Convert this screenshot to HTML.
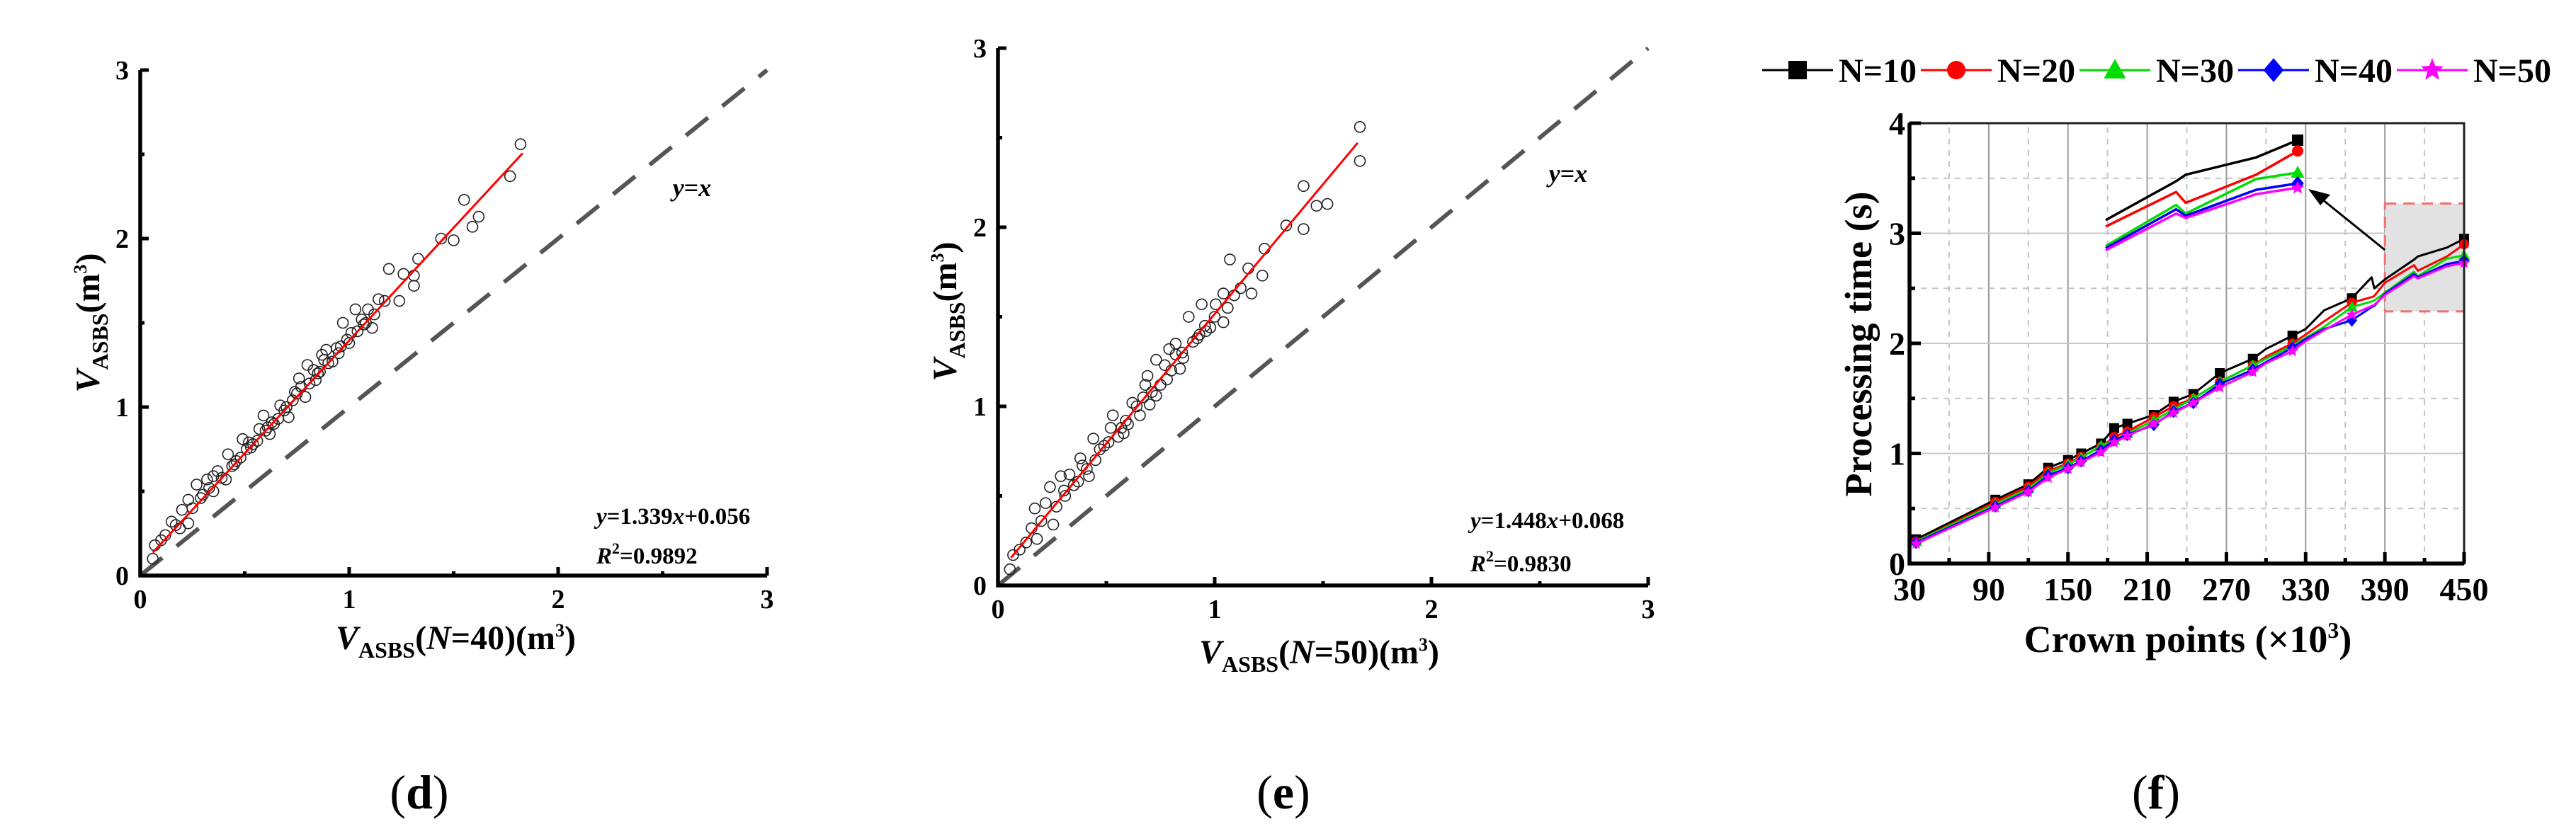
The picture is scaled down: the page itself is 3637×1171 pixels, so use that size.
<!DOCTYPE html>
<html><head><meta charset="utf-8"><style>
html,body{margin:0;padding:0;background:#fff;}
svg{display:block;font-family:"Liberation Serif",serif;}
</style></head><body>
<svg id="fig" width="3637" height="1171" viewBox="0 0 3637 1171" xmlns="http://www.w3.org/2000/svg">
<rect width="3637" height="1171" fill="#fff"/>
<g id="pd"></g>
<g id="pe"></g>
<g id="pf"></g>
</svg>
<script>
// ---------- Panel d data ----------
const dX = [0.06,0.07,0.10,0.15,0.19,0.23,0.23,0.27,0.29,0.32,0.35,0.37,0.41,0.42,0.46,0.49,0.51,0.54,0.59,0.62,0.64,0.67,0.71,0.74,0.76,0.79,0.80,0.84,0.87,0.89,0.92,0.94,0.97,1.00,1.03,1.06,1.09,1.11,1.14,1.19,1.24,1.26,1.31,1.33,1.44,1.50,1.55,1.59,1.62,1.77,1.82,0.57,0.69,0.83,0.88,1.01,1.17,1.31,0.20,0.35,0.44,
  0.12,0.17,0.25,0.30,0.33,0.39,0.45,0.48,0.53,0.56,0.60,0.63,0.66,0.70,0.73,0.77,0.81,0.85,0.90,0.95,0.99,1.04,1.08,1.12,0.52,0.61,0.75,0.86,0.96,1.07];
const dY = [0.10,0.18,0.21,0.32,0.28,0.31,0.45,0.54,0.46,0.57,0.50,0.62,0.57,0.72,0.68,0.81,0.75,0.78,0.95,0.84,0.90,1.01,0.94,1.09,1.17,1.06,1.25,1.16,1.31,1.34,1.27,1.35,1.50,1.38,1.58,1.52,1.58,1.47,1.64,1.82,1.63,1.79,1.72,1.88,2.00,1.99,2.23,2.07,2.13,2.37,2.56,0.87,0.98,1.22,1.28,1.44,1.63,1.78,0.39,0.59,0.65,
  0.24,0.30,0.40,0.48,0.52,0.58,0.66,0.70,0.76,0.80,0.86,0.91,0.93,1.00,1.04,1.12,1.14,1.20,1.26,1.32,1.40,1.45,1.50,1.55,0.79,0.88,1.08,1.21,1.36,1.49];
const dFit = [1.339, 0.056];
const dFitRange = [0.06, 1.83];
// ---------- Panel e data ----------
const eX = [0.055,0.07,0.155,0.18,0.22,0.24,0.255,0.305,0.33,0.37,0.38,0.42,0.44,0.47,0.53,0.555,0.59,0.62,0.655,0.68,0.69,0.73,0.73,0.78,0.79,0.82,0.855,0.88,0.92,0.94,0.98,1.005,1.04,1.04,1.07,1.155,1.17,1.22,1.23,1.33,1.41,1.41,1.47,1.52,1.67,1.67,0.52,0.64,0.77,0.82,0.955,1.09,0.17,0.29,0.39,
  0.10,0.13,0.20,0.27,0.31,0.35,0.41,0.45,0.49,0.51,0.57,0.60,0.67,0.71,0.75,0.80,0.85,0.90,0.96,1.00,1.06,1.12,0.58,0.70,0.84,0.93];
const eY = [0.09,0.17,0.32,0.26,0.46,0.55,0.34,0.53,0.62,0.58,0.71,0.61,0.82,0.76,0.95,0.83,0.92,1.02,0.95,1.12,1.17,1.06,1.26,1.15,1.32,1.35,1.27,1.50,1.38,1.57,1.44,1.57,1.47,1.63,1.82,1.77,1.63,1.73,1.88,2.01,1.99,2.23,2.12,2.13,2.37,2.56,0.88,1.00,1.23,1.29,1.45,1.62,0.43,0.61,0.67,
  0.20,0.24,0.36,0.44,0.50,0.56,0.65,0.70,0.78,0.80,0.88,0.90,1.05,1.08,1.12,1.20,1.30,1.36,1.42,1.50,1.55,1.66,0.85,1.01,1.21,1.40];
const eFit = [1.448, 0.068];
const eFitRange = [0.06, 1.66];
const scatterTicks = [0,1,2,3];
// ---------- Panel f data ----------
const fX = [35,95,120,135,150,160,175,185,195,215,230,245,265,290,300,320,330,344,365,380,382,390,412,415,437,450];
const fN10 = [0.22,0.58,0.72,0.87,0.94,1.00,1.09,1.23,1.27,1.35,1.47,1.54,1.73,1.86,1.95,2.07,2.13,2.30,2.41,2.60,2.50,2.58,2.76,2.79,2.87,2.95];
const fN20 = [0.20,0.56,0.70,0.84,0.91,0.97,1.06,1.15,1.20,1.33,1.43,1.50,1.65,1.80,1.88,2.00,2.08,2.20,2.37,2.42,2.43,2.55,2.71,2.66,2.79,2.90];
const fN30 = [0.20,0.54,0.68,0.82,0.90,0.96,1.07,1.12,1.18,1.30,1.40,1.50,1.65,1.80,1.86,1.98,2.05,2.15,2.33,2.38,2.39,2.46,2.65,2.61,2.77,2.80];
const fN40 = [0.19,0.52,0.66,0.80,0.87,0.93,1.03,1.12,1.17,1.26,1.38,1.46,1.63,1.76,1.83,1.96,2.04,2.13,2.21,2.33,2.34,2.45,2.63,2.60,2.72,2.75];
const fN50 = [0.18,0.51,0.65,0.78,0.86,0.92,1.01,1.10,1.16,1.27,1.37,1.46,1.60,1.74,1.82,1.93,2.02,2.12,2.26,2.34,2.35,2.44,2.61,2.59,2.70,2.73];
const fMarkerX = [35,95,120,135,150,160,175,185,195,215,230,245,265,290,320,365,450];
const fSeriesNames = ["N=10","N=20","N=30","N=40","N=50"];
const fXTicks = [30,90,150,210,270,330,390,450];
const fYTicks = [0,1,2,3,4];
const fZoomX = [390,450];
const fZoomY = [2.29,3.27];

const NS = "http://www.w3.org/2000/svg";
function mk(tag, attrs, parent){
  const e = document.createElementNS(NS, tag);
  for (const k in attrs) e.setAttribute(k, attrs[k]);
  parent.appendChild(e);
  return e;
}

function scatterPanel(g, o){
  const sx = v => o.x0 + v*o.ux;
  const sy = v => o.y0 - v*o.uy;
  const ref = mk('line',{x1:sx(0),y1:sy(0),x2:sx(3),y2:sy(3),stroke:'#555','stroke-width':6,'stroke-dasharray':'40,26'},g);
  
  
  for (let i=0;i<o.xs.length;i++){
    const c = mk('circle',{cx:sx(o.xs[i]),cy:sy(o.ys[i]),r:7.5,fill:'none',stroke:'#222','stroke-width':1.6},g);
    
    
  }
  const fl = mk('line',{x1:sx(o.fr[0]),y1:sy(o.fit[0]*o.fr[0]+o.fit[1]),x2:sx(o.fr[1]),y2:sy(o.fit[0]*o.fr[1]+o.fit[1]),stroke:'#f00','stroke-width':3},g);
  
  
  const ax = mk('path',{d:`M${sx(0)},${sy(3)} L${sx(0)},${sy(0)} L${sx(3)},${sy(0)}`,fill:'none',stroke:'#000','stroke-width':5.5},g);
  
  
  for (let v=0; v<=3.001; v+=0.5){
    const major = Math.abs(v-Math.round(v))<1e-6;
    const len = major?12:6;
    const t1 = mk('line',{x1:sx(v),y1:sy(0),x2:sx(v),y2:sy(0)-len,stroke:'#000','stroke-width':5},g);
    
    
    const t2 = mk('line',{x1:sx(0),y1:sy(v),x2:sx(0)+len,y2:sy(v),stroke:'#000','stroke-width':5},g);
    
    
  }
  scatterTicks.forEach(v=>{
    const a = mk('text',{x:sx(v),y:sy(0)+46,'font-size':38,'font-weight':'bold','text-anchor':'middle'},g);
    a.textContent = v;
    
    
    const b = mk('text',{x:sx(0)-16,y:sy(v)+13,'font-size':38,'font-weight':'bold','text-anchor':'end'},g);
    b.textContent = v;
    
    
  });
}

function addText(g, html, attrs, name){
  const t = mk('text', attrs, g);
  t.innerHTML = html;
  
  
  return t;
}

// Panel d
const pd = document.getElementById('pd');
scatterPanel(pd,{x0:198,y0:813,ux:295,uy:238,xs:dX,ys:dY,fit:dFit,fr:dFitRange});
addText(pd,'<tspan font-style="italic">V</tspan><tspan font-size="32" dy="12">ASBS</tspan><tspan dy="-12">(</tspan><tspan font-style="italic">N</tspan>=40)(m<tspan font-size="26" dy="-18">3</tspan><tspan dy="18">)</tspan>',{x:474,y:917,'font-size':48,'font-weight':'bold'},'x-axis-title');
addText(pd,'<tspan font-style="italic">V</tspan><tspan font-size="32" dy="12">ASBS</tspan><tspan dy="-12">(m</tspan><tspan font-size="26" dy="-18">3</tspan><tspan dy="18">)</tspan>',{x:0,y:0,'font-size':48,'font-weight':'bold','text-anchor':'middle',transform:'translate(140,456) rotate(-90)'},'y-axis-title');
addText(pd,'<tspan font-style="italic">y</tspan>=<tspan font-style="italic">x</tspan>',{x:977,y:277,'font-size':36,'font-weight':'bold','text-anchor':'middle'},'identity-label');
addText(pd,'<tspan font-style="italic">y</tspan>=1.339<tspan font-style="italic">x</tspan>+0.056',{x:842,y:740,'font-size':33,'font-weight':'bold'},'fit-equation');
addText(pd,'<tspan font-style="italic">R</tspan><tspan font-size="22" dy="-14">2</tspan><tspan dy="14">=0.9892</tspan>',{x:842,y:796,'font-size':33,'font-weight':'bold'},'r-squared');
addText(pd,'(<tspan font-weight="bold">d</tspan>)',{x:592,y:1142,'font-size':68,'text-anchor':'middle'},'panel-label-d');

// Panel e
const pe = document.getElementById('pe');
scatterPanel(pe,{x0:1409,y0:827,ux:306,uy:253,xs:eX,ys:eY,fit:eFit,fr:eFitRange});
addText(pe,'<tspan font-style="italic">V</tspan><tspan font-size="32" dy="12">ASBS</tspan><tspan dy="-12">(</tspan><tspan font-style="italic">N</tspan>=50)(m<tspan font-size="26" dy="-18">3</tspan><tspan dy="18">)</tspan>',{x:1693,y:937,'font-size':48,'font-weight':'bold'},'x-axis-title');
addText(pe,'<tspan font-style="italic">V</tspan><tspan font-size="32" dy="12">ASBS</tspan><tspan dy="-12">(m</tspan><tspan font-size="26" dy="-18">3</tspan><tspan dy="18">)</tspan>',{x:0,y:0,'font-size':48,'font-weight':'bold','text-anchor':'middle',transform:'translate(1350,440) rotate(-90)'},'y-axis-title');
addText(pe,'<tspan font-style="italic">y</tspan>=<tspan font-style="italic">x</tspan>',{x:2214,y:257,'font-size':36,'font-weight':'bold','text-anchor':'middle'},'identity-label');
addText(pe,'<tspan font-style="italic">y</tspan>=1.448<tspan font-style="italic">x</tspan>+0.068',{x:2076,y:746,'font-size':33,'font-weight':'bold'},'fit-equation');
addText(pe,'<tspan font-style="italic">R</tspan><tspan font-size="22" dy="-14">2</tspan><tspan dy="14">=0.9830</tspan>',{x:2076,y:807,'font-size':33,'font-weight':'bold'},'r-squared');
addText(pe,'(<tspan font-weight="bold">e</tspan>)',{x:1812,y:1142,'font-size':68,'text-anchor':'middle'},'panel-label-e');

// Panel f
const pf = document.getElementById('pf');
const FX0=2696, FX1=3479, FY0=796, FY1=174;
const fx = v => FX0 + (v-30)/(450-30)*(FX1-FX0);
const fy = v => FY0 - v/4*(FY0-FY1);
const colors = ['#000','#f00','#0d0','#00f','#f0f'];
const markers = ['square','circle','triangle','diamond','star'];
const seriesData = [fN10,fN20,fN30,fN40,fN50];

function marker(g, type, x, y, s, color, name){
  let e;
  if (type==='square') e = mk('rect',{x:x-s/2,y:y-s/2,width:s,height:s,fill:color},g);
  else if (type==='circle') e = mk('circle',{cx:x,cy:y,r:s/2,fill:color},g);
  else if (type==='triangle') e = mk('polygon',{points:`${x},${y-s*0.6} ${x-s*0.6},${y+s*0.45} ${x+s*0.6},${y+s*0.45}`,fill:color},g);
  else if (type==='diamond') e = mk('polygon',{points:`${x},${y-s*0.65} ${x+s*0.55},${y} ${x},${y+s*0.65} ${x-s*0.55},${y}`,fill:color},g);
  else {
    let p=[];
    for(let k=0;k<10;k++){const r=k%2?s*0.28:s*0.65;const a=-Math.PI/2+k*Math.PI/5;p.push((x+r*Math.cos(a)).toFixed(1)+','+(y+r*Math.sin(a)).toFixed(1));}
    e = mk('polygon',{points:p.join(' '),fill:color},g);
  }
  
  
  return e;
}

for (let v=60; v<450; v+=30){
  const major = (v-30)%60===0;
  const gl = mk('line',{x1:fx(v),y1:FY0,x2:fx(v),y2:FY1,stroke:major?'#9a9a9a':'#c4c4c4','stroke-width':2,'stroke-dasharray':major?'none':'8,8'},pf);
  
  
}
for (let v=0.5; v<4; v+=0.5){
  const major = Math.abs(v-Math.round(v))<1e-6;
  const gl = mk('line',{x1:FX0,y1:fy(v),x2:FX1,y2:fy(v),stroke:major?'#c8c8c8':'#c4c4c4','stroke-width':2,'stroke-dasharray':major?'none':'8,8'},pf);
  
  
}
const zb = mk('rect',{x:fx(fZoomX[0]),y:fy(fZoomY[1]),width:fx(fZoomX[1])-fx(fZoomX[0]),height:fy(fZoomY[0])-fy(fZoomY[1]),fill:'#e2e2e2',stroke:'#f07070','stroke-width':3,'stroke-dasharray':'16,10'},pf);



seriesData.forEach((d,si)=>{
  const pts = fX.map((x,i)=>fx(x).toFixed(1)+','+fy(d[i]).toFixed(1)).join(' ');
  const pl = mk('polyline',{points:pts,fill:'none',stroke:colors[si],'stroke-width':3,'stroke-linejoin':'round'},pf);
  
  
  fX.forEach((x,i)=>{ if (fMarkerX.indexOf(x)>=0) marker(pf,markers[si],fx(x),fy(d[i]),14,colors[si],'series-marker'); });
});

const IX0=2973, IX1=3244;
const ix = v => IX0 + (v-fZoomX[0])/(fZoomX[1]-fZoomX[0])*(IX1-IX0);
const iy = v => 198 - (v-2.95)*305;
seriesData.forEach((d,si)=>{
  const pts = [];
  fX.forEach((x,i)=>{ if (x>=fZoomX[0]) pts.push(ix(x).toFixed(1)+','+iy(d[i]).toFixed(1)); });
  const pl = mk('polyline',{points:pts.join(' '),fill:'none',stroke:colors[si],'stroke-width':3.5,'stroke-linejoin':'round'},pf);
  
  
  const last = fX.length-1;
  marker(pf,markers[si],ix(fX[last]),iy(d[last]),16,colors[si],'inset-marker');
});
const ar = mk('line',{x1:fx(fZoomX[0]),y1:353,x2:3268,y2:273,stroke:'#000','stroke-width':3},pf);


const ah = mk('polygon',{points:'3259,267 3290,275 3276,290',fill:'#000'},pf);



const fr = mk('rect',{x:FX0,y:FY1,width:FX1-FX0,height:FY0-FY1,fill:'none',stroke:'#222','stroke-width':3},pf);


const axl = mk('path',{d:`M${FX0},${FY1} L${FX0},${FY0} L${FX1},${FY0}`,fill:'none',stroke:'#000','stroke-width':5.5},pf);


for (let v=30; v<=450; v+=30){
  const major = (v-30)%60===0;
  const t = mk('line',{x1:fx(v),y1:FY0,x2:fx(v),y2:FY0-(major?16:8),stroke:'#000','stroke-width':5},pf);
  
  
}
for (let v=0; v<=4; v+=0.5){
  const major = Math.abs(v-Math.round(v))<1e-6;
  const t = mk('line',{x1:FX0,y1:fy(v),x2:FX0+(major?16:8),y2:fy(v),stroke:'#000','stroke-width':5},pf);
  
  
}
fXTicks.forEach(v=>{
  const t = mk('text',{x:fx(v),y:FY0+52,'font-size':46,'font-weight':'bold','text-anchor':'middle'},pf);
  t.textContent = v;
  
  
});
fYTicks.forEach(v=>{
  const t = mk('text',{x:FX0-6,y:fy(v)+16,'font-size':46,'font-weight':'bold','text-anchor':'end'},pf);
  t.textContent = v;
  
  
});
addText(pf,'Crown points (×10<tspan font-size="32" dy="-20">3</tspan><tspan dy="20">)</tspan>',{x:3089,y:921,'font-size':54,'font-weight':'bold','text-anchor':'middle'},'x-axis-title');
addText(pf,'Processing time (s)',{x:0,y:0,'font-size':54,'font-weight':'bold','text-anchor':'middle',transform:'translate(2642,486) rotate(-90)'},'y-axis-title');
addText(pf,'(<tspan font-weight="bold">f</tspan>)',{x:3044,y:1142,'font-size':68,'text-anchor':'middle'},'panel-label-f');

fSeriesNames.forEach((n,si)=>{
  const lg = mk('g',{},pf);
  
  
  const x0 = 2488 + si*224;
  const l = mk('line',{x1:x0,y1:99,x2:x0+100,y2:99,stroke:colors[si],'stroke-width':3},lg);
  
  
  marker(lg,markers[si],x0+50,99,26,colors[si],'legend-marker');
  const t = mk('text',{x:x0+108,y:116,'font-size':48,'font-weight':'bold'},lg);
  t.textContent = n;
  
  
});
</script>
</body></html>
